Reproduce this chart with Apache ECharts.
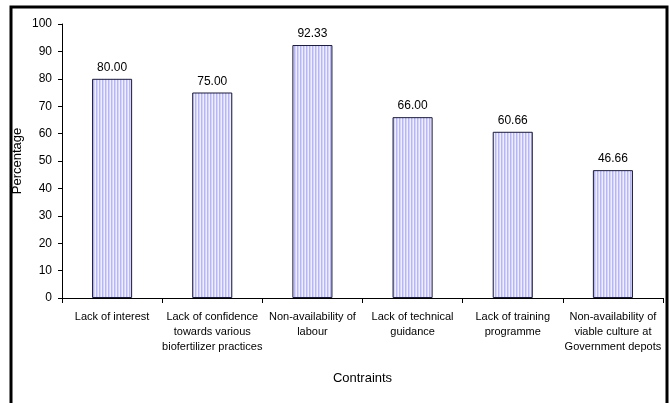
<!DOCTYPE html>
<html>
<head>
<meta charset="utf-8">
<script src="https://cdn.jsdelivr.net/npm/echarts@6/dist/echarts.min.js"></script>
<style>
  html, body { margin: 0; padding: 0; background: #fff; }
  #chart { width: 669px; height: 403px; }
</style>
</head>
<body>
<div id="chart"></div>
<script>
// data
const categories = [
  'Lack of interest',
  'Lack of confidence\ntowards various\nbiofertilizer practices',
  'Non-availability of\nlabour',
  'Lack of technical\nguidance',
  'Lack of training\nprogramme',
  'Non-availability of\nviable culture at\nGovernment depots'
]
const percentages = [80.00, 75.00, 92.33, 66.00, 60.66, 46.66]

const FONT = '"Liberation Sans", Arial, sans-serif'

// vertical stripes like the old excel fill
function stripes() {
  const c = document.createElement('canvas')
  c.width = 3
  c.height = 4
  const ctx = c.getContext('2d')
  ctx.fillStyle = '#eeeeff'
  ctx.fillRect(0, 0, 3, 4)
  ctx.fillStyle = '#b6b6f6'
  ctx.fillRect(0, 0, 1, 4)
  ctx.fillStyle = '#d4d4fc'
  ctx.fillRect(1, 0, 1, 4)
  return c
}

const myChart = echarts.init(document.getElementById('chart'), null, { renderer: 'canvas' })

const option = {
  animation: false,
  backgroundColor: '#fff',
  textStyle: { fontFamily: FONT, color: '#000' },
  graphic: [{
    type: 'rect',
    shape: { x: 11, y: 7, width: 656, height: 430 },
    style: { fill: null, stroke: '#000', lineWidth: 3 },
    silent: true
  }],
  grid: { left: 62, top: 24, right: 6, bottom: 105, outerBoundsMode: 'none', containLabel: false },
  xAxis: {
    type: 'category',
    data: categories,
    name: 'Contraints',
    nameLocation: 'middle',
    nameGap: 74,
    nameMoveOverlap: false,
    nameTextStyle: { fontSize: 13, color: '#000', fontFamily: FONT },
    axisLine: { lineStyle: { color: '#000', width: 1 } },
    axisTick: { show: true, length: 5, lineStyle: { color: '#000' } },
    axisLabel: {
      interval: 0,
      fontSize: 11,
      color: '#000',
      lineHeight: 15,
      margin: 11,
      fontFamily: FONT
    }
  },
  yAxis: {
    type: 'value',
    min: 0,
    max: 100,
    interval: 10,
    name: 'Percentage',
    nameLocation: 'middle',
    nameGap: 38,
    nameMoveOverlap: false,
    nameRotate: 90,
    nameTextStyle: { fontSize: 13, color: '#000', fontFamily: FONT },
    axisLine: { show: true, lineStyle: { color: '#000', width: 1 } },
    axisTick: { show: true, length: 4, lineStyle: { color: '#000' } },
    axisLabel: { fontSize: 12, color: '#000', margin: 10, fontFamily: FONT },
    splitLine: { show: false }
  },
  series: [{
    type: 'bar',
    data: percentages,
    barWidth: '40%',
    itemStyle: {
      color: { image: stripes(), repeat: 'repeat' },
      borderColor: '#1a1a3a',
      borderWidth: 1
    },
    label: {
      show: true,
      position: 'top',
      distance: 5,
      fontSize: 12,
      color: '#000',
      fontFamily: FONT,
      formatter: p => p.value.toFixed(2)
    }
  }]
}
myChart.setOption(option)
</script>
</body>
</html>
